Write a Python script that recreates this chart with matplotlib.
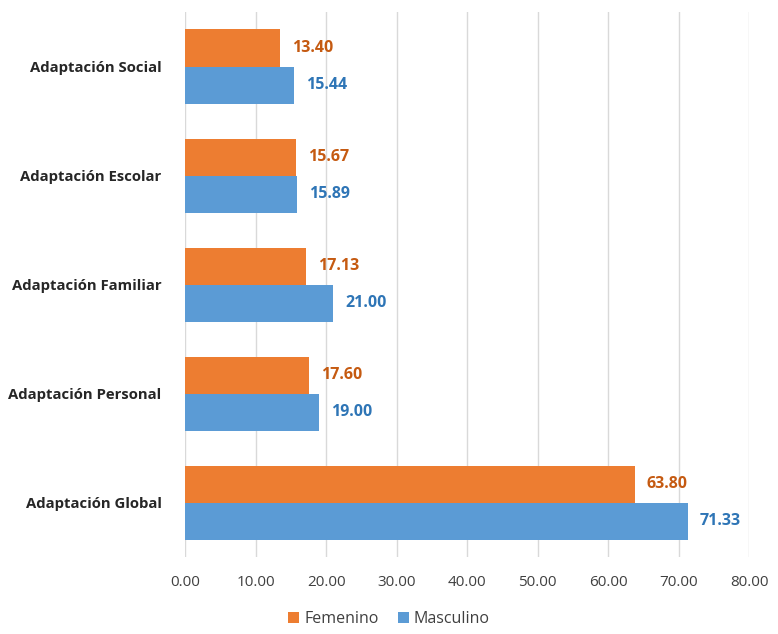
import matplotlib
matplotlib.use("Agg")
import matplotlib.pyplot as plt
import numpy as np

categories = ["Adaptación Social", "Adaptación Escolar", "Adaptación Familiar",
              "Adaptación Personal", "Adaptación Global"]
femenino = [13.40, 15.67, 17.13, 17.60, 63.80]
masculino = [15.44, 15.89, 21.00, 19.00, 71.33]
xticks = [0, 10, 20, 30, 40, 50, 60, 70, 80]

plt.rcParams['font.family'] = ['Open Sans', 'DejaVu Sans']

fig = plt.figure(figsize=(7.78, 6.34), dpi=100)
ax = fig.add_axes([0.238, 0.121, 0.725, 0.86])

y = np.arange(len(categories))
h = 0.34
orange = "#ED7D31"
blue = "#5B9BD5"
ax.barh(y - h/2, femenino, height=h, color=orange, label="Femenino", zorder=3)
ax.barh(y + h/2, masculino, height=h, color=blue, label="Masculino", zorder=3)

for yi, v in zip(y, femenino):
    ax.text(v + 1.7, yi - h/2, f"{v:.2f}", va="center", ha="left",
            color="#C55A11", fontsize=11.5, fontweight="bold")
for yi, v in zip(y, masculino):
    ax.text(v + 1.7, yi + h/2, f"{v:.2f}", va="center", ha="left",
            color="#2E75B6", fontsize=11.5, fontweight="bold")

ax.set_ylim(len(categories) - 0.5, -0.5)
ax.set_xlim(0, 80)
ax.set_xticks(xticks)
ax.set_xticklabels([f"{t:.2f}" for t in xticks], fontsize=11, color="#404040")
ax.set_yticks(y)
ax.set_yticklabels(categories, fontsize=10.7, fontweight="bold", color="#262626")
ax.tick_params(axis="both", length=0)
ax.tick_params(axis="x", pad=13)
ax.tick_params(axis="y", pad=17)
ax.grid(axis="x", color="#D9D9D9", linewidth=1, zorder=0)
for s in ax.spines.values():
    s.set_visible(False)

fig.legend(loc="lower center", bbox_to_anchor=(0.5, -0.012), ncol=2, frameon=False,
           fontsize=11.5, handlelength=0.7, handleheight=0.7, handletextpad=0.3,
           columnspacing=1.2, labelcolor="#404040")

fig.savefig("out.png", dpi=100, facecolor="white")
